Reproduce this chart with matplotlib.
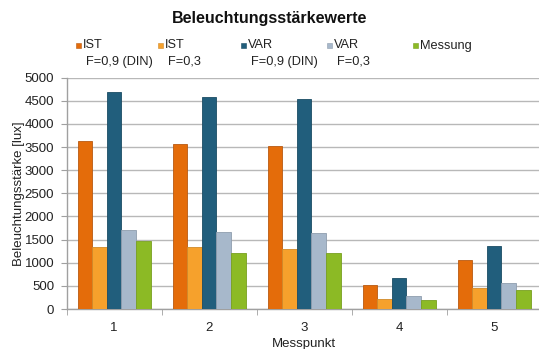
import numpy as np
import matplotlib
matplotlib.use("Agg")
import matplotlib.pyplot as plt
from matplotlib.patches import Rectangle

plt.rcParams['font.family'] = ['Liberation Sans', 'DejaVu Sans']

messpunkte = ["1", "2", "3", "4", "5"]
series_labels = ["IST\nF=0,9 (DIN)", "IST\nF=0,3", "VAR\nF=0,9 (DIN)", "VAR\nF=0,3", "Messung"]
ist_09 = [3630, 3560, 3530, 520, 1070]
ist_03 = [1340, 1330, 1290, 220, 450]
var_09 = [4680, 4590, 4550, 680, 1370]
var_03 = [1700, 1670, 1640, 280, 570]
messung = [1460, 1210, 1210, 190, 410]
series = [ist_09, ist_03, var_09, var_03, messung]
colors = ["#E46C0A", "#F6A12C", "#215E7C", "#A7B8CB", "#8CBA25"]
edges = ["#B85A12", "#D08A2A", "#1B4C64", "#8F9DAE", "#78A020"]
y_ticks = [0, 500, 1000, 1500, 2000, 2500, 3000, 3500, 4000, 4500, 5000]

fig = plt.figure(figsize=(5.39, 3.49), dpi=100)
ax = fig.add_axes([0.1237, 0.1146, 0.8813, 0.6628])

x = np.arange(len(messpunkte))
bw = 0.153
n = len(series)
for i, (vals, c, ec, lab) in enumerate(zip(series, colors, edges, series_labels)):
    ax.bar(x + (i - (n - 1) / 2) * bw, vals, width=bw, color=c, edgecolor=ec,
           linewidth=0.6, label=lab, zorder=3)

ax.set_xlim(-0.5, len(messpunkte) - 0.5)
ax.set_ylim(0, 5000)
ax.set_yticks(y_ticks)
ax.set_yticklabels([str(v) for v in y_ticks], fontsize=9.5, color="#222222")
ax.yaxis.grid(True, color="#B8B8B8", linewidth=1.0, zorder=0)
ax.set_axisbelow(True)

ax.set_xticks(x)
ax.set_xticklabels(messpunkte, fontsize=9.5, color="#222222")
ax.tick_params(axis="x", length=0, pad=9)
ax.set_xticks(np.arange(-0.5, len(messpunkte)), minor=True)
ax.tick_params(axis="x", which="minor", length=4, color="#A0A0A0", direction="out")
ax.tick_params(axis="y", length=4, color="#A0A0A0", pad=5)

for s in ["top", "right"]:
    ax.spines[s].set_visible(False)
for s in ["left", "bottom"]:
    ax.spines[s].set_color("#A0A0A0")
    ax.spines[s].set_linewidth(1.0)

ax.set_ylabel("Beleuchtungsstärke [lux]", fontsize=9.5, color="#222222", labelpad=0)
ax.set_xlabel("Messpunkt", fontsize=9.5, color="#222222", labelpad=3)

fig.text(0.5, 0.948, "Beleuchtungsstärkewerte", ha="center", va="center",
         fontsize=11.5, fontweight="bold", color="#111111")

# legend row: small square marker plus two-line label
W, H = 539.0, 349.0
leg_x = [76, 158, 241, 327, 413]
for px, c, ec, lab in zip(leg_x, colors, edges, series_labels):
    fig.patches.append(Rectangle((px / W, (H - 48) / H), 5 / W, 5 / H,
                                 transform=fig.transFigure, facecolor=c,
                                 edgecolor=ec, linewidth=0.4))
    lines = lab.split("\n")
    fig.text((px + 7) / W, (H - 45.5) / H, lines[0], ha="left", va="center",
             fontsize=9.2, color="#222222")
    if len(lines) > 1:
        fig.text((px + 10) / W, (H - 61.5) / H, lines[1], ha="left", va="center",
                 fontsize=9.2, color="#222222")

fig.savefig("out.png", dpi=100)
